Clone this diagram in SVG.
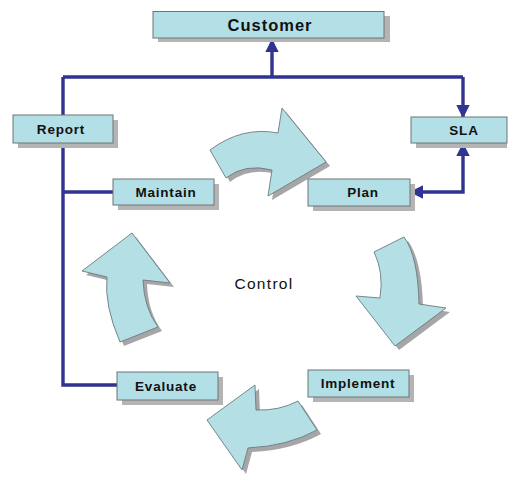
<svg xmlns="http://www.w3.org/2000/svg" xmlns:xlink="http://www.w3.org/1999/xlink" width="509" height="477" viewBox="0 0 509 477">
  <style>
    .box { fill: #b3dfe6; stroke: #6e7476; stroke-width: 1; }
    .shadow { fill: #b4b4b4; }
    .label { font-family: "Liberation Sans", Arial, sans-serif; font-weight: bold; font-size: 13.5px; fill: #111; text-anchor: middle; dominant-baseline: central; letter-spacing: 0.8px; }
    .big { font-size: 16.5px; letter-spacing: 1px; }
    .wire { fill: none; stroke: #30338f; stroke-width: 3.4; stroke-linejoin: miter; }
    .cycle { fill: #b3dfe5; stroke: #6b7b80; stroke-width: 0.9; stroke-linejoin: round; }
    .cycle-shadow { fill: #a6a6a6; }
    .center { font-family: "Liberation Sans", Arial, sans-serif; font-size: 15.5px; fill: #111; text-anchor: middle; dominant-baseline: central; letter-spacing: 1.3px; }
  </style>
  <defs>
    <marker id="head" viewBox="0 0 10 10" refX="9" refY="5" markerWidth="4" markerHeight="4" orient="auto-start-reverse" markerUnits="strokeWidth">
      <path d="M0,0 L10,5 L0,10 Z" fill="#30338f"/>
    </marker>
    <path id="arrowTop" d="M210,150 Q242,126 278,133 L282,108 L326,162 L268,196 L272,170 Q245,163 226,178 Z"/>
    <path id="arrowRight" d="M374,252 L404,237 Q418,256 419,304 L446,308 L395,346 L356,296 L380,298 Q384,272 374,252 Z"/>
    <path id="arrowBottom" d="M298,401 Q279,411 256,410 L255,385 L207,420 L242,470 L248,448 Q288,446 317,430 Z"/>
    <path id="arrowLeft" d="M132,233 L170,283 L143,280 Q144,308 158,327 L120,342 Q104,305 107,277 L82,271 Z"/>
  </defs>

  <!-- cycle arrows around the control centre -->
  <g id="cycle">
    <use xlink:href="#arrowTop" class="cycle-shadow" transform="translate(4,4)"/>
    <use xlink:href="#arrowRight" class="cycle-shadow" transform="translate(4,4)"/>
    <use xlink:href="#arrowBottom" class="cycle-shadow" transform="translate(4,4)"/>
    <use xlink:href="#arrowLeft" class="cycle-shadow" transform="translate(4,4)"/>
    <use xlink:href="#arrowTop" class="cycle"/>
    <use xlink:href="#arrowRight" class="cycle"/>
    <use xlink:href="#arrowBottom" class="cycle"/>
    <use xlink:href="#arrowLeft" class="cycle"/>
  </g>

  <text class="center" x="264" y="283">Control</text>

  <!-- connectors -->
  <g id="connectors">
    <path class="wire" d="M63,77 H463"/>
    <path class="wire" d="M63,77 V385 H117"/>
    <path class="wire" d="M63,192 H113"/>
    <path class="wire" d="M272,77 V40" marker-end="url(#head)"/>
    <path class="wire" d="M463,77 V117" marker-end="url(#head)"/>
    <path class="wire" d="M463,144 V192 H411" marker-start="url(#head)" marker-end="url(#head)"/>
  </g>

  <g id="customer">
    <rect class="shadow" x="158" y="16" width="232" height="26"/>
    <rect class="box" x="153" y="11.5" width="231" height="26.5"/>
    <text class="label big" x="270" y="25">Customer</text>
  </g>
  <g id="report">
    <rect class="shadow" x="18" y="120" width="100" height="28"/>
    <rect class="box" x="13" y="115" width="100" height="28"/>
    <text class="label" x="61" y="129">Report</text>
  </g>
  <g id="sla">
    <rect class="shadow" x="416" y="122" width="91" height="26"/>
    <rect class="box" x="411" y="117" width="96" height="26"/>
    <text class="label" x="464" y="130">SLA</text>
  </g>
  <g id="maintain">
    <rect class="shadow" x="118" y="184" width="101" height="26"/>
    <rect class="box" x="113" y="179" width="101" height="26"/>
    <text class="label" x="166" y="192">Maintain</text>
  </g>
  <g id="plan">
    <rect class="shadow" x="313" y="184" width="102" height="27"/>
    <rect class="box" x="308" y="179" width="102" height="27"/>
    <text class="label" x="363" y="192.5">Plan</text>
  </g>
  <g id="evaluate">
    <rect class="shadow" x="122" y="377" width="101" height="28"/>
    <rect class="box" x="117" y="372" width="101" height="28"/>
    <text class="label" x="166" y="386">Evaluate</text>
  </g>
  <g id="implement">
    <rect class="shadow" x="313" y="375" width="101" height="27"/>
    <rect class="box" x="308" y="370" width="101" height="27"/>
    <text class="label" x="358" y="383.5">Implement</text>
  </g>
</svg>
